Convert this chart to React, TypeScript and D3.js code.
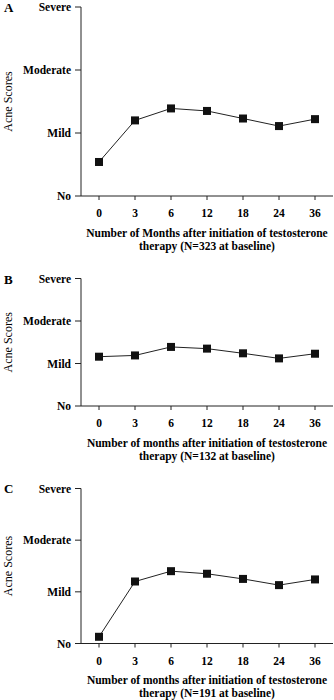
import React from "react";
import * as d3 from "d3";

const months = ["0", "3", "6", "12", "18", "24", "36"];
const severityLabels = ["No", "Mild", "Moderate", "Severe"];
const panelLetters = ["A", "B", "C"];
const seriesA = [0.54, 1.2, 1.39, 1.35, 1.23, 1.11, 1.22];
const seriesB = [1.16, 1.19, 1.39, 1.35, 1.24, 1.12, 1.23];
const seriesC = [0.13, 1.2, 1.4, 1.35, 1.25, 1.13, 1.24];
const titleLine1 = [
  "Number of Months after initiation of testosterone",
  "Number of months after initiation of testosterone",
  "Number of months after initiation of testosterone",
];
const titleLine2 = [
  "therapy (N=323 at baseline)",
  "therapy (N=132 at baseline)",
  "therapy (N=191 at baseline)",
];
const allSeries = [seriesA, seriesB, seriesC];

const layout = [
  { top: 7, bottom: 196, letterY: 12 },
  { top: 278.5, bottom: 406, letterY: 284 },
  { top: 488.5, bottom: 643.5, letterY: 493 },
];

const FONT = "'Liberation Serif', 'Times New Roman', serif";
const X0 = 81;
const X1 = 333;

function Panel({ i }: { i: number }) {
  const L = layout[i];
  const data = allSeries[i];
  const x = d3.scaleBand<string>().domain(months).range([X0, X1]);
  const y = d3.scaleLinear().domain([0, 3]).range([L.bottom, L.top]);
  const cx = (m: string) => (x(m) as number) + x.bandwidth() / 2;
  const line = d3
    .line<number>()
    .x((_, j) => cx(months[j]))
    .y((v) => y(v));
  const tickBase = L.bottom + 21;
  const midX = (X0 + X1) / 2;
  const sq = 8;
  return (
    <g>
      <text x={4} y={L.letterY} fontFamily={FONT} fontWeight="bold" fontSize={13}>
        {panelLetters[i]}
      </text>
      <text
        transform={`translate(11.5,${(L.top + L.bottom) / 2}) rotate(-90)`}
        textAnchor="middle"
        fontFamily={FONT}
        fontSize={12}
      >
        Acne Scores
      </text>
      {/* y axis */}
      <line x1={X0} x2={X0} y1={L.top} y2={L.bottom} stroke="#222" strokeWidth={1} />
      {severityLabels.map((lab, k) => (
        <g key={lab}>
          <line x1={X0 - 6} x2={X0} y1={y(k)} y2={y(k)} stroke="#222" strokeWidth={1} />
          <text
            x={X0 - 10}
            y={y(k)}
            dy="0.35em"
            textAnchor="end"
            fontFamily={FONT}
            fontWeight="bold"
            fontSize={11.5}
          >
            {lab}
          </text>
        </g>
      ))}
      {/* x axis */}
      <line x1={X0} x2={X1} y1={L.bottom} y2={L.bottom} stroke="#222" strokeWidth={1} />
      {months.map((m) => (
        <g key={m}>
          <line x1={cx(m)} x2={cx(m)} y1={L.bottom} y2={L.bottom + 4} stroke="#222" strokeWidth={1} />
          <text x={cx(m)} y={tickBase} textAnchor="middle" fontFamily={FONT} fontWeight="bold" fontSize={11.5}>
            {m}
          </text>
        </g>
      ))}
      <text x={midX} y={tickBase + 19.5} textAnchor="middle" fontFamily={FONT} fontWeight="bold" fontSize={11.5}>
        {titleLine1[i]}
      </text>
      <text x={midX} y={tickBase + 32.5} textAnchor="middle" fontFamily={FONT} fontWeight="bold" fontSize={11.5}>
        {titleLine2[i]}
      </text>
      <path d={line(data) || ""} fill="none" stroke="#222" strokeWidth={1} />
      {data.map((v, j) => (
        <rect
          key={j}
          x={cx(months[j]) - sq / 2}
          y={y(v) - sq / 2}
          width={sq}
          height={sq}
          fill="#111"
        />
      ))}
    </g>
  );
}

export default function App() {
  return (
    <svg
      width={334}
      height={700}
      style={{ position: "absolute", left: 0, top: 0, background: "#fff" }}
    >
      <rect width={334} height={700} fill="#fff" />
      {[0, 1, 2].map((i) => (
        <Panel key={i} i={i} />
      ))}
    </svg>
  );
}
